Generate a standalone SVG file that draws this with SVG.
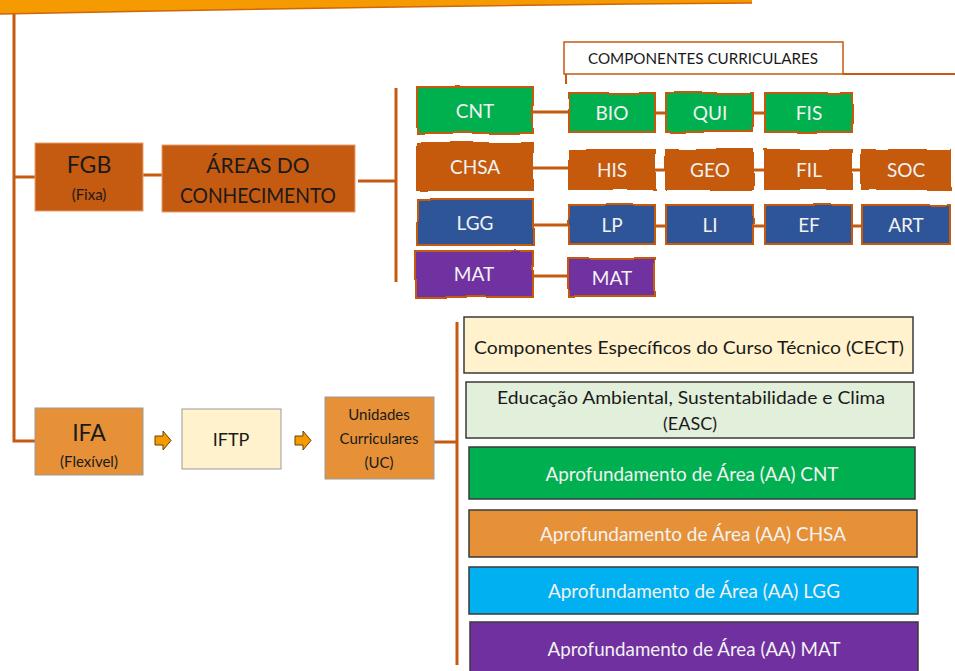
<svg xmlns="http://www.w3.org/2000/svg" width="955" height="671" viewBox="0 0 955 671">
<defs>
<style>
.ln{stroke:#C55A11;stroke-width:3;fill:none}
.t{font-family:Lato,"Liberation Sans",sans-serif;text-anchor:middle}
.sk{stroke:#C55A11;stroke-width:2}
.sw{fill:#F2F2F2;font-size:19px}
.dk{fill:#1a1a1a}
.bx{stroke:#3a3a3a;stroke-width:1.5}
.bl{stroke:#9a9a9a;stroke-width:1}
.arr{fill:#F59A00;stroke:#6b4200;stroke-width:1}
</style>
<filter id="rough" x="-5%" y="-10%" width="110%" height="120%">
<feTurbulence type="fractalNoise" baseFrequency="0.025" numOctaves="1" seed="5"/>
<feDisplacementMap in="SourceGraphic" scale="4"/>
</filter>
</defs>

<path d="M0,0 H752 V3 Q380,6 0,14 Z" fill="#F59A00"/>
<path d="M0,14 Q380,6 752,3" stroke="#D0660A" stroke-width="1.5" fill="none"/>

<g id="connectors">
<path class="ln" d="M14,14 V441 H35"/>
<path class="ln" d="M14,177 H35"/>
<path class="ln" d="M143,175 H162"/>
<path class="ln" d="M358,181 H396"/>
<path class="ln" d="M396,88 V282"/>
<path class="ln" d="M533,112 H569 M655,113 H666 M753,113 H765"/>
<path class="ln" d="M533,168 H569 M655,170 H666 M753,170 H765 M852,170 H862"/>
<path class="ln" d="M533,225 H569 M655,226 H666 M753,226 H765 M852,226 H862"/>
<path class="ln" d="M533,276 H569"/>
<path d="M843,74 H955 M566,74 V84" stroke="#C55A11" stroke-width="2" fill="none"/>
<path class="ln" d="M434,442 H457"/>
<path class="ln" d="M457,322 V665"/>
</g>

<g id="componentes-curriculares">
<rect x="564" y="42" width="279" height="32" fill="#fff" stroke="#C55A11" stroke-width="1.5"/>
<text class="t dk" x="703" y="64" font-size="15" textLength="230" lengthAdjust="spacingAndGlyphs">COMPONENTES CURRICULARES</text>
</g>

<g id="fgb">
<rect x="35" y="143" width="108" height="68" fill="#C55A11" stroke="#E8A070" stroke-width="1"/>
<text class="t dk" x="89" y="173" font-size="23">FGB</text>
<text class="t dk" x="89" y="200" font-size="15">(Fixa)</text>
</g>

<g id="areas">
<rect x="162" y="145" width="193" height="67" fill="#C55A11" stroke="#E8A070" stroke-width="1"/>
<text class="t dk" x="258" y="173" font-size="21">ÁREAS DO</text>
<text class="t dk" x="258" y="203" font-size="21" textLength="156" lengthAdjust="spacingAndGlyphs">CONHECIMENTO</text>
</g>

<g id="cnt"><rect class="sk" x="417" y="87" width="116" height="46" fill="#00B050" filter="url(#rough)"/><text class="t sw" x="475" y="118">CNT</text></g>
<g id="bio"><rect class="sk" x="569" y="93" width="86" height="39" fill="#00B050" filter="url(#rough)"/><text class="t sw" x="612" y="120">BIO</text></g>
<g id="qui"><rect class="sk" x="666" y="93" width="87" height="39" fill="#00B050" filter="url(#rough)"/><text class="t sw" x="710" y="120">QUI</text></g>
<g id="fis"><rect class="sk" x="765" y="93" width="87" height="39" fill="#00B050" filter="url(#rough)"/><text class="t sw" x="809" y="120">FIS</text></g>

<g id="chsa"><rect class="sk" x="417" y="143" width="116" height="47" fill="#C55A11" filter="url(#rough)"/><text class="t sw" x="475" y="174">CHSA</text></g>
<g id="his"><rect class="sk" x="569" y="150" width="86" height="39" fill="#C55A11" filter="url(#rough)"/><text class="t sw" x="612" y="177">HIS</text></g>
<g id="geo"><rect class="sk" x="666" y="150" width="87" height="39" fill="#C55A11" filter="url(#rough)"/><text class="t sw" x="710" y="177">GEO</text></g>
<g id="fil"><rect class="sk" x="765" y="150" width="87" height="39" fill="#C55A11" filter="url(#rough)"/><text class="t sw" x="809" y="177">FIL</text></g>
<g id="soc"><rect class="sk" x="862" y="150" width="88" height="39" fill="#C55A11" filter="url(#rough)"/><text class="t sw" x="906" y="177">SOC</text></g>

<g id="lgg"><rect class="sk" x="417" y="199" width="116" height="46" fill="#2F5597" filter="url(#rough)"/><text class="t sw" x="475" y="230">LGG</text></g>
<g id="lp"><rect class="sk" x="569" y="205" width="86" height="39" fill="#2F5597" filter="url(#rough)"/><text class="t sw" x="612" y="232">LP</text></g>
<g id="li"><rect class="sk" x="666" y="205" width="87" height="39" fill="#2F5597" filter="url(#rough)"/><text class="t sw" x="710" y="232">LI</text></g>
<g id="ef"><rect class="sk" x="765" y="205" width="87" height="39" fill="#2F5597" filter="url(#rough)"/><text class="t sw" x="809" y="232">EF</text></g>
<g id="art"><rect class="sk" x="862" y="205" width="88" height="39" fill="#2F5597" filter="url(#rough)"/><text class="t sw" x="906" y="232">ART</text></g>

<g id="mat"><rect class="sk" x="415" y="251" width="118" height="46" fill="#7030A0" filter="url(#rough)"/><text class="t sw" x="474" y="281">MAT</text></g>
<g id="mat2"><rect class="sk" x="568" y="258" width="87" height="38" fill="#7030A0" filter="url(#rough)"/><text class="t sw" x="612" y="285">MAT</text></g>

<g id="ifa">
<rect class="bl" x="35" y="408" width="108" height="67" fill="#E69138"/>
<text class="t dk" x="89" y="441" font-size="23">IFA</text>
<text class="t dk" x="89" y="467" font-size="15">(Flexível)</text>
</g>

<g id="arrow1"><polygon class="arr" points="155,436 163,436 163,431 171,440.5 163,450 163,445 155,445"/></g>

<g id="iftp">
<rect class="bl" x="182" y="409" width="99" height="60" fill="#FFF2CC"/>
<text class="t dk" x="231" y="446" font-size="18">IFTP</text>
</g>

<g id="arrow2"><polygon class="arr" points="295,436 303,436 303,431 311,440.5 303,450 303,445 295,445"/></g>

<g id="uc">
<rect class="bl" x="325" y="397" width="109" height="82" fill="#E69138"/>
<text class="t dk" x="379" y="420" font-size="15">Unidades</text>
<text class="t dk" x="379" y="444" font-size="15">Curriculares</text>
<text class="t dk" x="379" y="468" font-size="15">(UC)</text>
</g>

<g id="cect">
<rect class="bx" x="464" y="317" width="449" height="56" fill="#FFF2CC"/>
<text class="t dk" x="689" y="354" font-size="18" textLength="430" lengthAdjust="spacingAndGlyphs">Componentes Específicos do Curso Técnico (CECT)</text>
</g>

<g id="easc">
<rect class="bx" x="466" y="382" width="448" height="56" fill="#E2EFDA"/>
<text class="t dk" x="691" y="404" font-size="18" textLength="388" lengthAdjust="spacingAndGlyphs">Educação Ambiental, Sustentabilidade e Clima</text>
<text class="t dk" x="690" y="430" font-size="18">(EASC)</text>
</g>

<g id="aa-cnt">
<rect class="bx" x="469" y="447" width="446" height="52" fill="#00B050"/>
<text class="t sw" x="692" y="481" font-size="18" textLength="293" lengthAdjust="spacingAndGlyphs">Aprofundamento de Área (AA) CNT</text>
</g>

<g id="aa-chsa">
<rect class="bx" x="469" y="510" width="448" height="47" fill="#E69138"/>
<text class="t sw" x="693" y="541" textLength="306" lengthAdjust="spacingAndGlyphs">Aprofundamento de Área (AA) CHSA</text>
</g>

<g id="aa-lgg">
<rect class="bx" x="469" y="567" width="449" height="47" fill="#00B0F0"/>
<text class="t sw" x="694" y="598" textLength="292" lengthAdjust="spacingAndGlyphs">Aprofundamento de Área (AA) LGG</text>
</g>

<g id="aa-mat">
<rect class="bx" x="470" y="622" width="448" height="52" fill="#7030A0"/>
<text class="t sw" x="694" y="656" textLength="293" lengthAdjust="spacingAndGlyphs">Aprofundamento de Área (AA) MAT</text>
</g>
</svg>
